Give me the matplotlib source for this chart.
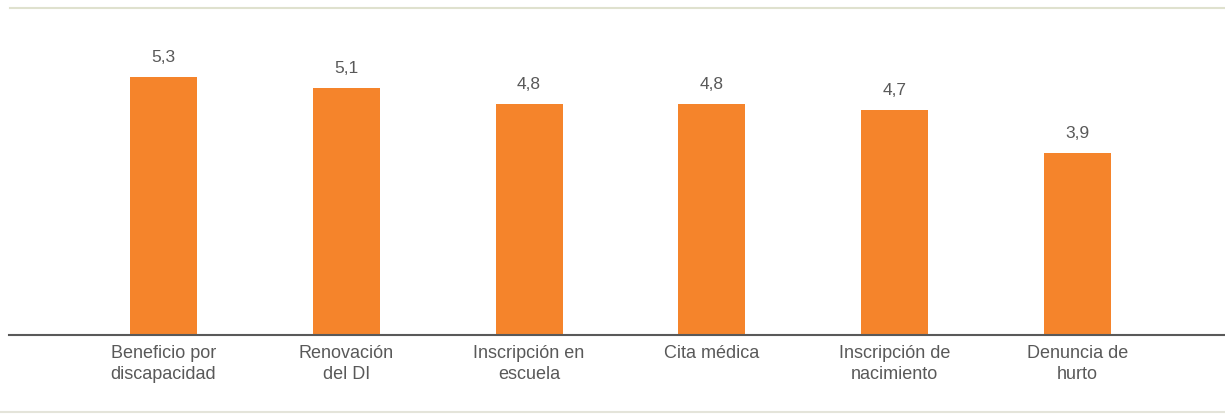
import matplotlib
matplotlib.use("Agg")
import matplotlib.pyplot as plt
from matplotlib.lines import Line2D

categories = ["Beneficio por\ndiscapacidad", "Renovación\ndel DI", "Inscripción en\nescuela",
              "Cita médica", "Inscripción de\nnacimiento", "Denuncia de\nhurto"]
values = [5.3, 5.1, 4.8, 4.8, 4.7, 3.9]
value_labels = ["5,3", "5,1", "4,8", "4,8", "4,7", "3,9"]

plt.rcParams['font.family'] = ['Liberation Sans', 'DejaVu Sans']

W, H = 1225, 418
fig = plt.figure(figsize=(W / 100, H / 100), dpi=100)
ax = fig.add_axes([9 / W, 1 - 335 / H, (1225 - 9) / W, (335 - 20) / H])

x = list(range(len(categories)))
ax.bar(x, values, width=0.367, color="#F5842B", zorder=2)
for xi, v, lab in zip(x, values, value_labels):
    ax.annotate(lab, (xi, v), xytext=(0, 8.5), textcoords="offset points",
                ha="center", va="bottom", fontsize=12.5, color="#595959")

ax.set_xlim(-0.845, 5.807)
ax.set_ylim(0.578, 0.578 + 315 / 54.7)
ax.set_xticks(x)
ax.set_xticklabels(categories, fontsize=13, color="#595959", linespacing=1.3)
ax.tick_params(axis="x", length=0, pad=7.5)
ax.set_yticks([])
for s in ["top", "right", "left"]:
    ax.spines[s].set_visible(False)
ax.spines["bottom"].set_color("#595959")
ax.spines["bottom"].set_linewidth(1.5)

fig.add_artist(Line2D([10 / W, 1.0], [1 - 8 / H, 1 - 8 / H], color="#DFE1CE", lw=1.5))
fig.add_artist(Line2D([0.0, 1.0], [1 - 412 / H, 1 - 412 / H], color="#E4E4DA", lw=1.5))

fig.savefig("out.png", dpi=100)
